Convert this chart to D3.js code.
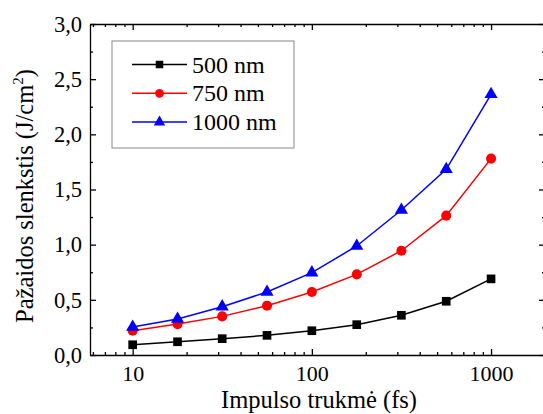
<!DOCTYPE html>
<html>
<head>
<meta charset="utf-8">
<script src="https://d3js.org/d3.v7.min.js"></script>
<style>
  body { margin: 0; background: #fff; }
</style>
</head>
<body>
<svg id="chart" width="543" height="414"></svg>
<script>
// pulse durations (fs)
const durations = [10, 17.8, 31.6, 56.2, 100, 178, 316, 562, 1000];
const nm500 = [0.093, 0.12, 0.148, 0.178, 0.22, 0.275, 0.36, 0.487, 0.69];
const nm750 = [0.22, 0.28, 0.35, 0.447, 0.571, 0.731, 0.945, 1.263, 1.78];
const nm1000 = [0.254, 0.326, 0.438, 0.571, 0.746, 0.988, 1.314, 1.683, 2.363];
const seriesNames = ['500 nm', '750 nm', '1000 nm'];
const xTicks = [10, 100, 1000];
const yTicks = [0, 0.5, 1, 1.5, 2, 2.5, 3];

const FONT = 'Liberation Serif';

const series = [
  { name: seriesNames[0], values: nm500, color: '#000000', marker: d3.symbolSquare, size: 75 },
  { name: seriesNames[1], values: nm750, color: '#ff0000', marker: d3.symbolCircle, size: 80 },
  { name: seriesNames[2], values: nm1000, color: '#0000ff', marker: d3.symbolTriangle, size: 75 }
];

const margin = { top: 24, right: -2, bottom: 59, left: 90 };
const W = 543, H = 414;
const width = W - margin.left - margin.right;
const height = H - margin.top - margin.bottom;

const svg = d3.select('#chart');
const g = svg.append('g').attr('transform', `translate(${margin.left},${margin.top})`);

const x = d3.scaleLog().domain([5.78, 2000]).range([0, width]);
const y = d3.scaleLinear().domain([0, 3]).range([height, 0]);

const fmt = d => d3.format('.1f')(d).replace('.', ',');

// minor ticks on log axis
const minorX = [];
for (let dec = 1; dec <= 1000; dec *= 10) {
  for (let k = 1; k <= 9; k++) {
    const v = dec * k;
    if (v >= 5.78 && v <= 2000 && !xTicks.includes(v)) minorX.push(v);
  }
}
const minorY = d3.range(0.25, 3, 0.5);

// bottom axis
const xAxis = g.append('g').attr('transform', `translate(0,${height})`)
  .call(d3.axisBottom(x).tickValues(xTicks).tickFormat(d3.format('d')).tickSizeInner(-6).tickSizeOuter(0).tickPadding(10));
xAxis.selectAll('text').attr('font-family', FONT).attr('font-size', 22).attr('fill', '#000');
g.append('g').attr('transform', `translate(0,${height})`)
  .call(d3.axisBottom(x).tickValues(minorX).tickFormat('').tickSizeInner(-3).tickSizeOuter(0))
  .select('.domain').remove();

// top axis
g.append('g')
  .call(d3.axisTop(x).tickValues(xTicks).tickFormat('').tickSizeInner(-6).tickSizeOuter(0));
g.append('g')
  .call(d3.axisTop(x).tickValues(minorX).tickFormat('').tickSizeInner(-3).tickSizeOuter(0))
  .select('.domain').remove();

// left axis
const yAxis = g.append('g')
  .call(d3.axisLeft(y).tickValues(yTicks).tickFormat(fmt).tickSizeInner(-6).tickSizeOuter(0).tickPadding(8));
yAxis.selectAll('text').attr('font-family', FONT).attr('font-size', 22.5).attr('fill', '#000');
g.append('g')
  .call(d3.axisLeft(y).tickValues(minorY).tickFormat('').tickSizeInner(-3).tickSizeOuter(0))
  .select('.domain').remove();

// right axis
g.append('g').attr('transform', `translate(${width},0)`)
  .call(d3.axisRight(y).tickValues(yTicks).tickFormat('').tickSizeInner(-6).tickSizeOuter(0));
g.append('g').attr('transform', `translate(${width},0)`)
  .call(d3.axisRight(y).tickValues(minorY).tickFormat('').tickSizeInner(-3).tickSizeOuter(0))
  .select('.domain').remove();

g.selectAll('.domain, .tick line').attr('stroke', '#000').attr('stroke-width', 1.3);

// series
const line = d3.line().x((d, i) => x(durations[i])).y(d => y(d));
series.forEach(s => {
  g.append('path')
    .datum(s.values)
    .attr('fill', 'none')
    .attr('stroke', s.color)
    .attr('stroke-width', 1.5)
    .attr('d', line);
  g.selectAll(null)
    .data(s.values)
    .join('path')
    .attr('transform', (d, i) => `translate(${x(durations[i])},${y(d)})`)
    .attr('d', d3.symbol().type(s.marker).size(s.size))
    .attr('fill', s.color);
});

// legend
const legend = svg.append('g').attr('transform', 'translate(112,41)');
legend.append('rect')
  .attr('width', 182).attr('height', 107)
  .attr('fill', '#fff').attr('stroke', '#888').attr('stroke-width', 1);
series.forEach((s, i) => {
  const ly = 23.5 + i * 28.8;
  legend.append('line')
    .attr('x1', 20).attr('x2', 75).attr('y1', ly).attr('y2', ly)
    .attr('stroke', s.color).attr('stroke-width', 1.5);
  legend.append('path')
    .attr('transform', `translate(47.5,${ly})`)
    .attr('d', d3.symbol().type(s.marker).size(s.size * 0.75))
    .attr('fill', s.color);
  legend.append('text')
    .attr('x', 80).attr('y', ly + 8)
    .attr('font-family', FONT)
    .attr('font-size', 24)
    .text(s.name);
});

// axis titles
svg.append('text')
  .attr('x', 319).attr('y', 408)
  .attr('text-anchor', 'middle')
  .attr('font-family', FONT)
  .attr('font-size', 24.5)
  .text('Impulso trukmė (fs)');

const yt = svg.append('text')
  .attr('transform', `translate(33,196) rotate(-90)`)
  .attr('text-anchor', 'middle')
  .attr('font-family', FONT)
  .attr('font-size', 24.5);
yt.append('tspan').attr('font-family', FONT).text('Pažaidos slenkstis (J/cm');
yt.append('tspan').attr('font-family', FONT).attr('dy', -10).attr('font-size', 15).text('2');
yt.append('tspan').attr('font-family', FONT).attr('dy', 10).text(')');
</script>
</body>
</html>
